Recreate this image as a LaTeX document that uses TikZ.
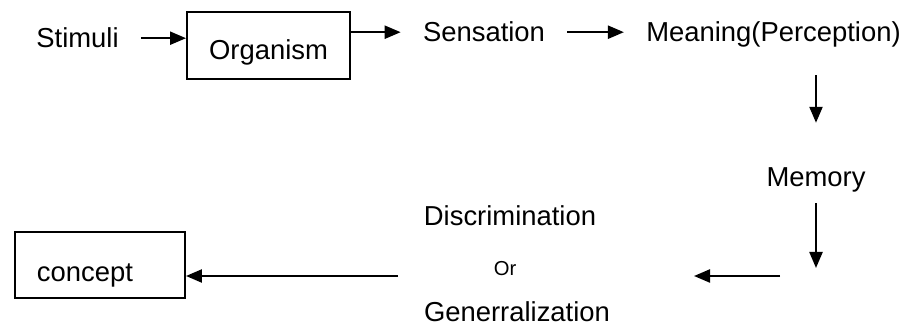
\documentclass[tikz,border=0pt]{standalone}
\usepackage{fontspec}
\setmainfont{Liberation Sans}
\usetikzlibrary{arrows.meta}

\begin{document}
\begin{tikzpicture}[
    x=0.2mm, y=-0.2mm,
    stage/.style={inner xsep=4.4mm, inner ysep=1mm, anchor=base, font=\fontsize{15.6}{18}\selectfont},
    block/.style={draw, line width=1.1pt, inner xsep=4.4mm, text depth=1.2mm, font=\fontsize{15.6}{18}\selectfont},
    flow/.style={-{Triangle[length=3.2mm, width=2.6mm]}, line width=1.3pt}
]
    \useasboundingbox (0,0) rectangle (913,330);

    % Stages
    \node[stage] (stim) at (77.5,48) {Stimuli};
    \node[block, minimum width=32.6mm, minimum height=13.4mm, text height=7mm] (org) at (268.5,45.5) {Organism};
    \node[stage] (sens) at (484,42) {Sensation};
    \node[stage] (mean) at (773.5,42) {Meaning(Perception)};
    \node[stage] (mem) at (816,187) {Memory};
    \node[stage] (disc) at (510,226) {Discrimination};
    \node[stage, font=\fontsize{11.5}{13}\selectfont] (alt) at (505,276) {Or};
    \node[stage] (gen) at (517,322) {Generralization};
    \node[block, text width=25.2mm, align=left, minimum height=13.2mm, text height=8mm] (concept) at (100,265) {concept};
    \coordinate (split) at (816,276);

    % Flow
    \draw[flow] (stim) -- (stim -| org.west);
    \draw[flow] (org.east |- sens) -- (sens.west);
    \draw[flow] (sens) -- (sens -| mean.west);
    \draw[flow, shorten <=4.4mm, shorten >=8mm] (mean.south -| mem) -- (mem.north);
    \draw[flow, shorten <=1mm, shorten >=1.6mm] (mem.south) -- (split);
    \draw[flow, shorten <=7.2mm, shorten >=37.8mm] (split) -- (alt.base);
    \draw[flow, shorten <=21.4mm] (alt.base) -- (alt.base -| concept.east);
\end{tikzpicture}
\end{document}
